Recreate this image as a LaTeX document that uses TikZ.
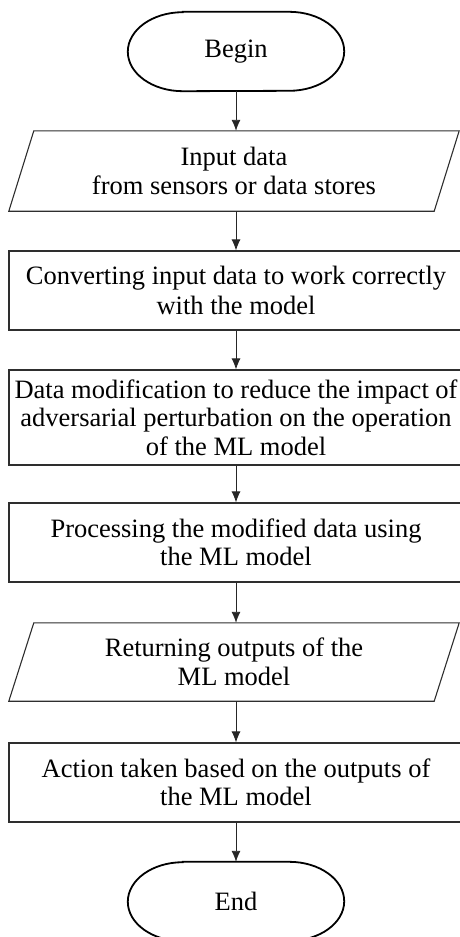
\documentclass[tikz,border=0pt]{standalone}
\usepackage{fontspec}
\setmainfont{Liberation Serif}
\usetikzlibrary{arrows.meta,calc}
\begin{document}
\begin{tikzpicture}[x=1pt,y=-1pt,
  txt/.style={align=center,font=\fontsize{26.5}{28.5}\selectfont},
  box/.style={txt,draw=black!82,line width=1.1pt,minimum width=454pt,inner sep=0pt},
  io/.style={txt,inner sep=0pt,minimum width=450pt},
  term/.style={txt,minimum width=216pt,minimum height=79pt,inner sep=0pt},
  arr/.style={-{Latex[length=11pt,width=9pt]},line width=0.9pt,draw=black!85},
  outline/.style={line width=1.1pt,draw=black!82},
  termline/.style={line width=1.8pt,draw=black}]
\useasboundingbox (0,0) rectangle (459,937);

\node[term] (begin) at (236,51.5) {Begin};
\node[io,minimum height=80pt] (in) at (234,171) {Input data\\from sensors or data stores};
\node[box,minimum height=79pt,font=\fontsize{26.5}{30}\selectfont] (conv) at (236,290.5) {Converting input data to work correctly\\with the model};
\node[box,minimum height=95pt] (mod) at (236,417.5) {Data modification to reduce the impact of\\adversarial perturbation on the operation\\of the ML model};
\node[box,minimum height=79pt] (proc) at (236,542.5) {Processing the modified data using\\the ML model};
\node[io,minimum height=78pt] (out) at (234,662) {Returning outputs of the\\ML model};
\node[box,minimum height=79pt] (act) at (236,782.5) {Action taken based on the outputs of\\the ML model};
\node[term] (end) at (236,901.5) {End};

% terminators
\foreach \t in {begin,end}{
  \draw[termline] ($(\t.north west)+(55,0)$) -- ($(\t.north east)+(-55,0)$)
    arc[start angle=-90,end angle=90,x radius=55,y radius=39.5]
    -- ($(\t.south west)+(55,0)$)
    arc[start angle=90,end angle=270,x radius=55,y radius=39.5] -- cycle;
}
% parallelograms
\foreach \p in {in,out}{
  \draw[outline] (\p.south west) -- ($(\p.south east)+(-25,0)$) -- (\p.north east)
    -- ($(\p.north west)+(25,0)$) -- cycle;
}

\draw[arr] (begin.south) -- (begin.south |- in.north);
\draw[arr] (begin.south |- in.south) -- (begin.south |- conv.north);
\draw[arr] (conv.south) -- (mod.north);
\draw[arr] (mod.south) -- (proc.north);
\draw[arr] (proc.south) -- (proc.south |- out.north);
\draw[arr] (proc.south |- out.south) -- (act.north);
\draw[arr] (act.south) -- (end.north);
\end{tikzpicture}
\end{document}
